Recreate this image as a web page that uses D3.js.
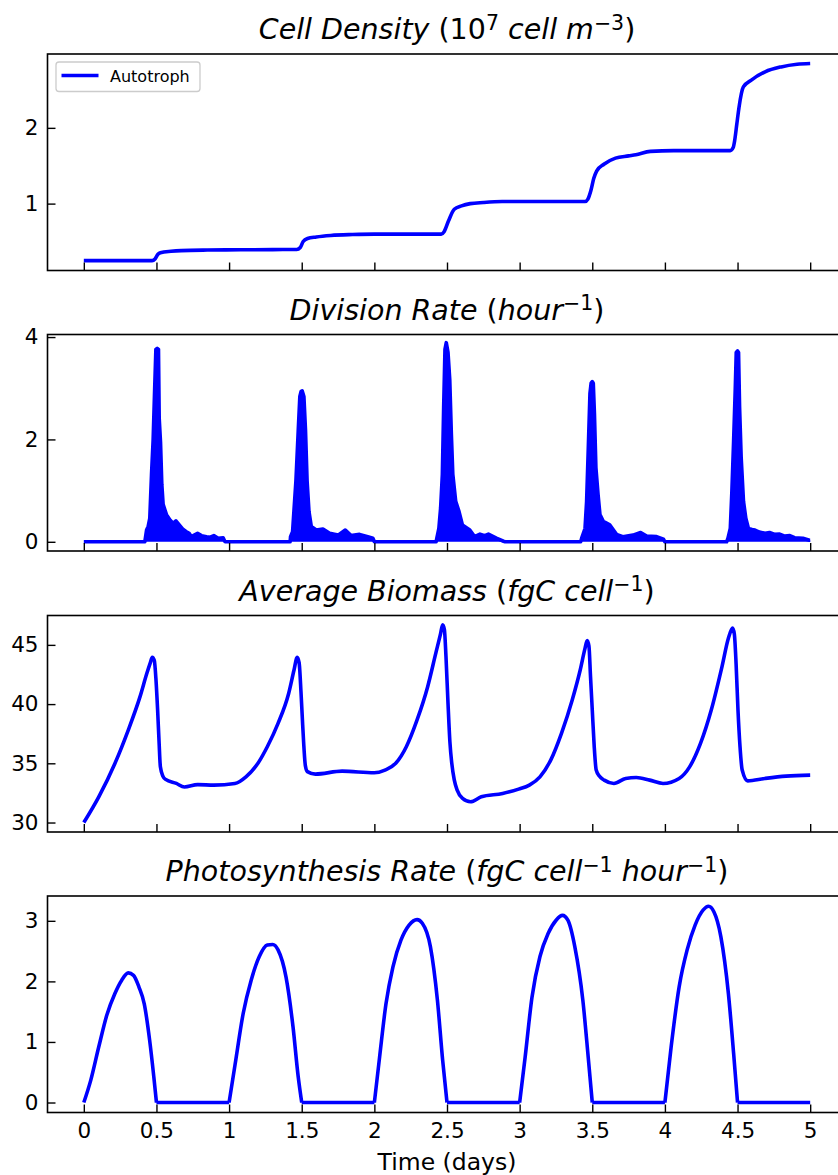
<!DOCTYPE html>
<html><head><meta charset="utf-8">
<script src="https://cdn.jsdelivr.net/npm/d3@7"></script>
<style>
body{margin:0;background:#fff}
svg{display:block}
text{font-family:"DejaVu Sans","Noto Sans",sans-serif;fill:#000}
</style>
</head><body>
<svg id="chart" width="838" height="1175"></svg>
<script>
// ---------------- data ----------------
const xTicks = [0, 0.5, 1, 1.5, 2, 2.5, 3, 3.5, 4, 4.5, 5];
const xTickLabels = ["0", "0.5", "1", "1.5", "2", "2.5", "3", "3.5", "4", "4.5", "5"];
const xLabel = "Time (days)";
const legendLabel = "Autotroph";

// Cell density (10^7 cell m^-3)
const densityTime = [0, 0.47, 0.49, 0.51, 0.527, 0.6, 0.67, 0.85, 1.08, 1.3, 1.465, 1.49, 1.51, 1.54, 1.6, 1.7, 1.85, 2.0, 2.46, 2.48, 2.51, 2.55, 2.6, 2.66, 2.75, 2.88, 3.2, 3.45, 3.47, 3.49, 3.51, 3.53, 3.58, 3.66, 3.75, 3.80, 3.90, 4.06, 4.45, 4.47, 4.48, 4.495, 4.51, 4.54, 4.595, 4.69, 4.80, 4.91, 5.0];
const density = [0.248, 0.248, 0.27, 0.33, 0.35, 0.37, 0.38, 0.387, 0.39, 0.393, 0.394, 0.42, 0.50, 0.54, 0.56, 0.58, 0.592, 0.597, 0.597, 0.63, 0.77, 0.925, 0.97, 1.0, 1.015, 1.027, 1.027, 1.027, 1.06, 1.17, 1.33, 1.43, 1.52, 1.6, 1.63, 1.646, 1.69, 1.70, 1.70, 1.74, 1.83, 2.05, 2.27, 2.54, 2.63, 2.74, 2.805, 2.84, 2.85];

// Division rate (hour^-1) — upper envelope of the rapidly oscillating trace
const divisionTime = [0, 0.42, 0.432, 0.443, 0.454, 0.466, 0.477, 0.486, 0.496, 0.505, 0.514, 0.519, 0.528, 0.537, 0.546, 0.569, 0.592, 0.615, 0.634, 0.657, 0.68, 0.703, 0.725, 0.741, 0.76, 0.783, 0.81, 0.845, 0.87, 0.895, 0.925, 0.959, 0.97, 0.975,
  1.42, 1.423, 1.437, 1.46, 1.476, 1.487, 1.496, 1.503, 1.515, 1.526, 1.537, 1.55, 1.566, 1.6, 1.646, 1.692, 1.75, 1.8, 1.84, 1.898, 1.955, 1.99, 2.0,
  2.425, 2.43, 2.444, 2.456, 2.468, 2.477, 2.486, 2.495, 2.507, 2.519, 2.53, 2.54, 2.56, 2.583, 2.606, 2.657, 2.69, 2.727, 2.76, 2.785, 2.84, 2.889, 2.9,
  3.42, 3.427, 3.45, 3.461, 3.472, 3.484, 3.492, 3.50, 3.507, 3.515, 3.525, 3.54, 3.553, 3.576, 3.62, 3.667, 3.71, 3.78, 3.833, 3.874, 3.943, 3.99, 4.0,
  4.425, 4.434, 4.45, 4.461, 4.473, 4.484, 4.491, 4.50, 4.507, 4.514, 4.525, 4.541, 4.557, 4.575, 4.60, 4.62, 4.65, 4.69, 4.72, 4.757, 4.79, 4.825, 4.86, 4.893, 4.95, 4.995, 5.0];
const division = [0, 0, 0.23, 0.30, 0.46, 1.32, 1.98, 2.84, 3.76, 3.78, 3.76, 2.41, 1.95, 1.12, 0.73, 0.53, 0.43, 0.36, 0.41, 0.33, 0.25, 0.20, 0.165, 0.10, 0.13, 0.165, 0.12, 0.10, 0.09, 0.12, 0.07, 0.08, 0.01, 0,
  0, 0.1, 0.2, 1.19, 2.18, 2.84, 2.94, 2.95, 2.84, 2.18, 1.19, 0.59, 0.30, 0.23, 0.25, 0.165, 0.13, 0.23, 0.12, 0.145, 0.10, 0.07, 0,
  0, 0.07, 0.26, 0.66, 1.32, 2.64, 3.76, 3.89, 3.70, 3.17, 2.11, 1.32, 0.79, 0.59, 0.33, 0.23, 0.10, 0.15, 0.12, 0.15, 0.07, 0.01, 0,
  0, 0.07, 0.26, 0.79, 1.78, 2.9, 3.1, 3.13, 3.1, 2.5, 1.45, 0.92, 0.53, 0.40, 0.33, 0.145, 0.10, 0.13, 0.18, 0.11, 0.10, 0.05, 0,
  0, 0.07, 0.26, 0.99, 1.98, 2.97, 3.70, 3.73, 3.70, 2.64, 1.65, 0.79, 0.46, 0.26, 0.24, 0.23, 0.19, 0.165, 0.18, 0.145, 0.15, 0.11, 0.12, 0.08, 0.07, 0.03, 0.03];

// Average biomass (fgC cell^-1)
const biomassTime = [0, 0.103, 0.214, 0.306, 0.387, 0.434, 0.458, 0.471, 0.485, 0.497, 0.508, 0.518, 0.527, 0.545, 0.563, 0.637, 0.692, 0.784, 0.895, 1.04, 1.116, 1.19, 1.263, 1.337, 1.41, 1.447, 1.469, 1.482, 1.495, 1.505, 1.513, 1.525, 1.539, 1.594, 1.778, 1.999, 2.073, 2.147, 2.22, 2.294, 2.367, 2.423, 2.455, 2.47, 2.482, 2.493, 2.507, 2.52, 2.533, 2.55, 2.57, 2.607, 2.662, 2.736, 2.883, 2.993, 3.067, 3.14, 3.214, 3.288, 3.362, 3.417, 3.45, 3.465, 3.477, 3.488, 3.50, 3.513, 3.527, 3.55, 3.582, 3.649, 3.73, 3.803, 3.895, 3.987, 4.098, 4.17, 4.245, 4.319, 4.393, 4.437, 4.466, 4.478, 4.49, 4.503, 4.517, 4.532, 4.57, 4.687, 4.834, 5.0];
const biomass = [30.0, 32.17, 34.99, 37.81, 40.63, 42.6, 43.5, 43.96, 43.7, 42.0, 39.5, 36.8, 34.7, 33.9, 33.64, 33.3, 33.0, 33.2, 33.16, 33.3, 33.86, 34.85, 36.4, 38.37, 40.9, 42.88, 43.96, 43.5, 41.0, 38.6, 36.8, 34.8, 34.3, 34.09, 34.34, 34.2, 34.43, 35.0, 36.4, 38.66, 41.47, 44.3, 45.9, 46.7, 46.3, 44.0, 40.06, 36.8, 34.99, 33.6, 32.73, 32.03, 31.75, 32.17, 32.45, 32.82, 33.16, 33.86, 35.27, 37.53, 40.35, 42.88, 44.7, 45.37, 44.9, 42.3, 39.5, 36.5, 34.43, 33.9, 33.58, 33.3, 33.72, 33.8, 33.58, 33.3, 33.72, 34.7, 36.68, 39.5, 43.17, 45.56, 46.41, 45.9, 43.4, 39.5, 36.4, 34.43, 33.52, 33.72, 33.92, 34.0];

// Photosynthesis rate (fgC cell^-1 hour^-1)
const photoTime = [0, 0.048, 0.103, 0.158, 0.214, 0.261, 0.306, 0.342, 0.379, 0.416, 0.453, 0.482, 0.5,
  1.0, 1.042, 1.097, 1.152, 1.208, 1.263, 1.30, 1.337, 1.392, 1.44, 1.476, 1.5,
  2.0, 2.036, 2.08, 2.128, 2.183, 2.239, 2.294, 2.33, 2.386, 2.434, 2.47, 2.5,
  3.0, 3.038, 3.085, 3.14, 3.196, 3.251, 3.295, 3.332, 3.38, 3.435, 3.472, 3.5,
  4.0, 4.043, 4.098, 4.153, 4.208, 4.264, 4.30, 4.337, 4.385, 4.437, 4.473, 4.5, 5.0];
const photo = [0, 0.37, 0.92, 1.44, 1.80, 2.02, 2.14, 2.10, 1.91, 1.63, 1.03, 0.42, 0,
  0, 0.64, 1.47, 2.02, 2.41, 2.60, 2.61, 2.52, 2.07, 1.25, 0.42, 0,
  0, 0.75, 1.63, 2.24, 2.68, 2.93, 3.02, 2.96, 2.57, 1.69, 0.70, 0,
  0, 0.75, 1.74, 2.41, 2.79, 3.01, 3.09, 3.01, 2.57, 1.69, 0.75, 0,
  0, 0.92, 1.91, 2.52, 2.93, 3.18, 3.24, 3.15, 2.74, 1.80, 0.81, 0, 0];

const densityTicks = [1, 2];
const divisionTicks = [0, 2, 4];
const biomassTicks = [30, 35, 40, 45];
const photoTicks = [0, 1, 2, 3];

// title pieces: [text, italic?, superscript?]
const titles = [
  [["Cell Density ", true, false], ["(10", false, false], ["7", false, true], [" cell m", true, false], ["\u22123", false, true], [")", false, false]],
  [["Division Rate ", true, false], ["(", false, false], ["hour", true, false], ["\u22121", false, true], [")", false, false]],
  [["Average Biomass ", true, false], ["(", false, false], ["fgC cell", true, false], ["\u22121", false, true], [")", false, false]],
  [["Photosynthesis Rate ", true, false], ["(", false, false], ["fgC cell", true, false], ["\u22121", false, true], [" hour", true, false], ["\u22121", false, true], [")", false, false]]
];

// ---------------- layout ----------------
const svg = d3.select("#chart");
const left = 47.5, right = 846.5;
const tops = [54, 334.5, 615.5, 896];
const ph = 216.5;
const blue = "#0000ff";
const tickFont = 21.5, titleFont = 28.5;
const lw = 3.6;

const x = d3.scaleLinear().domain([-0.25, 5.25]).range([left, right]);

// split a series into pieces that start/end at zero, so smoothing keeps sharp corners there
function splitAtZero(pts) {
  const segs = [];
  let cur = [pts[0]];
  for (let k = 1; k < pts.length; k++) {
    cur.push(pts[k]);
    if (pts[k][1] === 0 && cur.length > 1) { segs.push(cur); cur = [pts[k]]; }
  }
  if (cur.length > 1) segs.push(cur);
  return segs;
}

const panels = [
  {time: densityTime, vals: density, dom: [0.117, 2.975], ticks: densityTicks, kind: "line", curve: d3.curveMonotoneX, split: false},
  {time: divisionTime, vals: division, dom: [-0.18, 4.05], ticks: divisionTicks, kind: "area", curve: d3.curveLinear, split: false},
  {time: biomassTime, vals: biomass, dom: [29.2, 47.48], ticks: biomassTicks, kind: "line", curve: d3.curveMonotoneX, split: false},
  {time: photoTime, vals: photo, dom: [-0.165, 3.41], ticks: photoTicks, kind: "line", curve: d3.curveMonotoneX, split: true}
];

panels.forEach((p, i) => {
  const top = tops[i], bottom = top + ph;
  const y = d3.scaleLinear().domain(p.dom).range([bottom, top]);
  const g = svg.append("g");
  const pts = p.time.map((t, k) => [t, p.vals[k]]);

  const clipId = "clip" + i;
  svg.append("clipPath").attr("id", clipId).append("rect")
    .attr("x", left).attr("y", top).attr("width", right - left).attr("height", ph);

  if (p.kind === "area") {
    g.append("path").datum(pts)
      .attr("clip-path", `url(#${clipId})`)
      .attr("fill", blue)
      .attr("d", d3.area().x(d => x(d[0])).y0(y(0)).y1(d => y(d[1])));
  }
  const line = d3.line().curve(p.curve).x(d => x(d[0])).y(d => y(d[1]));
  const segs = p.split ? splitAtZero(pts) : [pts];
  const d = segs.map(s => line(s)).join("");
  g.append("path")
    .attr("clip-path", `url(#${clipId})`)
    .attr("fill", "none").attr("stroke", blue).attr("stroke-width", lw)
    .attr("stroke-linejoin", "round").attr("stroke-linecap", "butt")
    .attr("d", d);

  // y axis (ticks inward)
  const ya = g.append("g").attr("transform", `translate(${left},0)`)
    .call(d3.axisLeft(y).tickValues(p.ticks).tickSize(-8).tickPadding(9).tickFormat(d3.format("d")));
  ya.select(".domain").remove();
  ya.selectAll(".tick line").attr("stroke", "#000").attr("stroke-width", 1.4);
  ya.selectAll(".tick text").style("font-size", tickFont + "px").style("font-family", "DejaVu Sans");

  // x axis (ticks inward)
  const xa = g.append("g").attr("transform", `translate(0,${bottom})`)
    .call(d3.axisBottom(x).tickValues(xTicks).tickSize(-8).tickPadding(10)
      .tickFormat((d, k) => i === 3 ? xTickLabels[k] : ""));
  xa.select(".domain").remove();
  xa.selectAll(".tick line").attr("stroke", "#000").attr("stroke-width", 1.4);
  xa.selectAll(".tick text").style("font-size", tickFont + "px").style("font-family", "DejaVu Sans");

  // spines
  g.append("rect").attr("x", left).attr("y", top).attr("width", right - left).attr("height", ph)
    .attr("fill", "none").attr("stroke", "#000").attr("stroke-width", 1.6);

  // title
  const tt = g.append("text").attr("x", (left + right) / 2).attr("y", top - 15)
    .attr("text-anchor", "middle").style("font-size", titleFont + "px");
  let raised = false;
  titles[i].forEach(([txt, it, sup]) => {
    const ts = tt.append("tspan").text(txt).style("font-style", it ? "italic" : "normal");
    if (sup && !raised) { ts.attr("dy", "-0.45em").style("font-size", "72%"); raised = true; }
    else if (sup && raised) { ts.style("font-size", "72%"); }
    else if (!sup && raised) { ts.attr("dy", (0.45 * 0.72) + "em"); raised = false; }
  });
});

// x label
svg.append("text").attr("x", (left + right) / 2).attr("y", 1170)
  .attr("text-anchor", "middle").style("font-size", "23.5px").text(xLabel);

// legend
const lg = svg.append("g");
lg.append("rect").attr("x", 56).attr("y", 62).attr("width", 144).attr("height", 29.5)
  .attr("rx", 3).attr("fill", "#fff").attr("fill-opacity", 0.8).attr("stroke", "#ccc").attr("stroke-width", 1.3);
lg.append("line").attr("x1", 61.5).attr("x2", 98.5).attr("y1", 75.5).attr("y2", 75.5)
  .attr("stroke", blue).attr("stroke-width", lw);
lg.append("text").attr("x", 110).attr("y", 81.5).style("font-size", "16px").text(legendLabel);
</script>
</body></html>
